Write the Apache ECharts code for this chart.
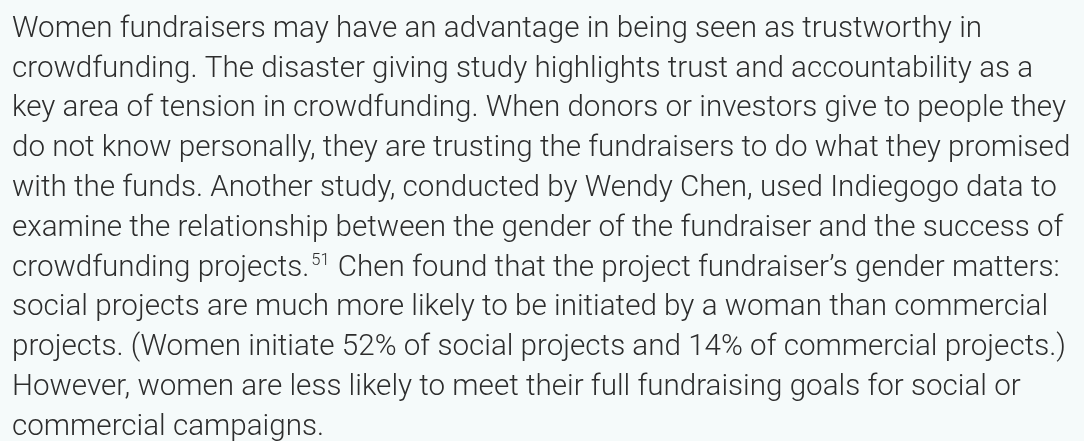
<!DOCTYPE html>
<html><head><meta charset="utf-8">
<script src="https://cdn.jsdelivr.net/npm/echarts@6/dist/echarts.min.js"></script>
<style>html,body{margin:0;padding:0;background:#f5fafa;}#c{width:1084px;height:441px;}</style>
</head><body><div id="c"></div>
<script>
const lines = [
  "Women fundraisers may have an advantage in being seen as trustworthy in",
  "crowdfunding. The disaster giving study highlights trust and accountability as a",
  "key area of tension in crowdfunding. When donors or investors give to people they",
  "do not know personally, they are trusting the fundraisers to do what they promised",
  "with the funds. Another study, conducted by Wendy Chen, used Indiegogo data to",
  "examine the relationship between the gender of the fundraiser and the success of",
  "crowdfunding projects.{sup|51} Chen found that the project fundraiser\u2019s gender matters:",
  "social projects are much more likely to be initiated by a woman than commercial",
  "projects. (Women initiate 52% of social projects and 14% of commercial projects.)",
  "However, women are less likely to meet their full fundraising goals for social or",
  "commercial campaigns."
];
const chart = echarts.init(document.getElementById('c'));
chart.setOption({
  backgroundColor: '#f5fafa',
  graphic: [{
    type: 'text',
    left: 12,
    top: 9.5,
    style: {
      text: lines.join('\n'),
      fontFamily: 'Roboto',
      fontWeight: 300,
      fontSize: 29.6,
      lineHeight: 39.8,
      fill: '#2d2d2d',
      rich: {
        sup: { fontSize: 16.5, fontFamily: 'Roboto', fontWeight: 300, fill: '#2d2d2d', verticalAlign: 'middle', lineHeight: 18, padding: [0, 1, 14, 2] }
      }
    }
  }]
});
</script></body></html>
